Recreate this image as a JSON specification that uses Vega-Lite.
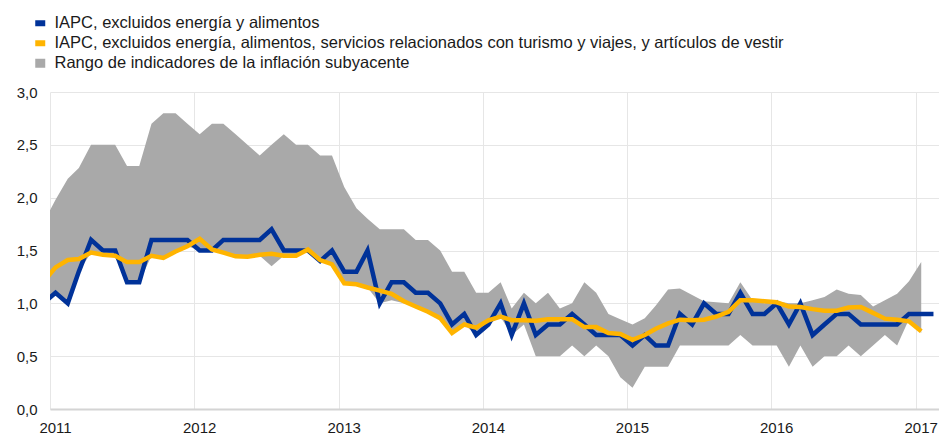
{
  "$schema": "https://vega.github.io/schema/vega-lite/v6.json",
  "width": 889,
  "height": 317,
  "autosize": {"type": "none"},
  "padding": {"left": 50, "top": 92, "right": 0, "bottom": 25},
  "background": "white",
  "config": {
    "view": {"stroke": null},
    "font": "Liberation Sans",
    "axis": {"labelFont": "Liberation Sans", "labelFontSize": 15, "labelColor": "#1a1a1a", "gridColor": "#e6e6e6", "gridWidth": 1, "ticks": false, "tickSize": 0}
  },
  "data": {"values": [
    {"d":"2010-12-15","b":1.0,"y":1.2,"lo":1.0,"hi":1.76},
    {"d":"2011-01-15","b":1.1,"y":1.34,"lo":1.1,"hi":1.98},
    {"d":"2011-02-15","b":1.0,"y":1.41,"lo":1.0,"hi":2.18},
    {"d":"2011-03-15","b":1.3,"y":1.42,"lo":1.3,"hi":2.28},
    {"d":"2011-04-15","b":1.6,"y":1.48,"lo":1.48,"hi":2.5},
    {"d":"2011-05-15","b":1.5,"y":1.46,"lo":1.46,"hi":2.5},
    {"d":"2011-06-15","b":1.5,"y":1.45,"lo":1.45,"hi":2.5},
    {"d":"2011-07-15","b":1.2,"y":1.39,"lo":1.2,"hi":2.3},
    {"d":"2011-08-15","b":1.2,"y":1.39,"lo":1.2,"hi":2.3},
    {"d":"2011-09-15","b":1.6,"y":1.45,"lo":1.45,"hi":2.7},
    {"d":"2011-10-15","b":1.6,"y":1.43,"lo":1.43,"hi":2.8},
    {"d":"2011-11-15","b":1.6,"y":1.49,"lo":1.49,"hi":2.8},
    {"d":"2011-12-15","b":1.6,"y":1.54,"lo":1.54,"hi":2.7},
    {"d":"2012-01-15","b":1.5,"y":1.61,"lo":1.5,"hi":2.6},
    {"d":"2012-02-15","b":1.5,"y":1.51,"lo":1.5,"hi":2.7},
    {"d":"2012-03-15","b":1.6,"y":1.48,"lo":1.48,"hi":2.7},
    {"d":"2012-04-15","b":1.6,"y":1.445,"lo":1.445,"hi":2.6},
    {"d":"2012-05-15","b":1.6,"y":1.44,"lo":1.44,"hi":2.5},
    {"d":"2012-06-15","b":1.6,"y":1.46,"lo":1.45,"hi":2.4},
    {"d":"2012-07-15","b":1.7,"y":1.47,"lo":1.35,"hi":2.5},
    {"d":"2012-08-15","b":1.5,"y":1.45,"lo":1.45,"hi":2.6},
    {"d":"2012-09-15","b":1.5,"y":1.45,"lo":1.45,"hi":2.5},
    {"d":"2012-10-15","b":1.5,"y":1.51,"lo":1.5,"hi":2.5},
    {"d":"2012-11-15","b":1.4,"y":1.41,"lo":1.4,"hi":2.4},
    {"d":"2012-12-15","b":1.5,"y":1.37,"lo":1.37,"hi":2.4},
    {"d":"2013-01-15","b":1.3,"y":1.19,"lo":1.19,"hi":2.1},
    {"d":"2013-02-15","b":1.3,"y":1.18,"lo":1.18,"hi":1.9},
    {"d":"2013-03-15","b":1.5,"y":1.15,"lo":1.15,"hi":1.8},
    {"d":"2013-04-15","b":1.0,"y":1.12,"lo":1.0,"hi":1.7},
    {"d":"2013-05-15","b":1.2,"y":1.09,"lo":1.03,"hi":1.7},
    {"d":"2013-06-15","b":1.2,"y":1.02,"lo":1.0,"hi":1.7},
    {"d":"2013-07-15","b":1.1,"y":0.97,"lo":0.97,"hi":1.6},
    {"d":"2013-08-15","b":1.1,"y":0.92,"lo":0.92,"hi":1.6},
    {"d":"2013-09-15","b":1.0,"y":0.86,"lo":0.86,"hi":1.5},
    {"d":"2013-10-15","b":0.8,"y":0.72,"lo":0.72,"hi":1.3},
    {"d":"2013-11-15","b":0.9,"y":0.8,"lo":0.8,"hi":1.3},
    {"d":"2013-12-15","b":0.7,"y":0.77,"lo":0.7,"hi":1.1},
    {"d":"2014-01-15","b":0.8,"y":0.84,"lo":0.8,"hi":1.1},
    {"d":"2014-02-15","b":1.0,"y":0.875,"lo":0.87,"hi":1.2},
    {"d":"2014-03-15","b":0.7,"y":0.84,"lo":0.7,"hi":0.95},
    {"d":"2014-04-15","b":1.0,"y":0.84,"lo":0.8,"hi":1.1},
    {"d":"2014-05-15","b":0.7,"y":0.835,"lo":0.5,"hi":1.0},
    {"d":"2014-06-15","b":0.8,"y":0.85,"lo":0.5,"hi":1.1},
    {"d":"2014-07-15","b":0.8,"y":0.85,"lo":0.5,"hi":0.95},
    {"d":"2014-08-15","b":0.9,"y":0.85,"lo":0.6,"hi":1.0},
    {"d":"2014-09-15","b":0.8,"y":0.775,"lo":0.5,"hi":1.2},
    {"d":"2014-10-15","b":0.7,"y":0.775,"lo":0.6,"hi":1.1},
    {"d":"2014-11-15","b":0.7,"y":0.72,"lo":0.5,"hi":0.9},
    {"d":"2014-12-15","b":0.7,"y":0.71,"lo":0.3,"hi":0.85},
    {"d":"2015-01-15","b":0.6,"y":0.655,"lo":0.2,"hi":0.8},
    {"d":"2015-02-15","b":0.7,"y":0.7,"lo":0.4,"hi":0.86},
    {"d":"2015-03-15","b":0.6,"y":0.76,"lo":0.4,"hi":0.98},
    {"d":"2015-04-15","b":0.6,"y":0.81,"lo":0.4,"hi":1.13},
    {"d":"2015-05-15","b":0.9,"y":0.845,"lo":0.6,"hi":1.14},
    {"d":"2015-06-15","b":0.8,"y":0.84,"lo":0.6,"hi":1.08},
    {"d":"2015-07-15","b":1.0,"y":0.845,"lo":0.6,"hi":1.02},
    {"d":"2015-08-15","b":0.9,"y":0.875,"lo":0.6,"hi":1.01},
    {"d":"2015-09-15","b":0.9,"y":0.92,"lo":0.6,"hi":1.0},
    {"d":"2015-10-15","b":1.1,"y":1.03,"lo":0.7,"hi":1.2},
    {"d":"2015-11-15","b":0.9,"y":1.03,"lo":0.6,"hi":1.03},
    {"d":"2015-12-15","b":0.9,"y":1.02,"lo":0.6,"hi":1.0},
    {"d":"2016-01-15","b":1.0,"y":1.01,"lo":0.6,"hi":1.02},
    {"d":"2016-02-15","b":0.8,"y":0.97,"lo":0.4,"hi":1.0},
    {"d":"2016-03-15","b":1.0,"y":0.965,"lo":0.6,"hi":1.0},
    {"d":"2016-04-15","b":0.7,"y":0.945,"lo":0.4,"hi":1.03},
    {"d":"2016-05-15","b":0.8,"y":0.93,"lo":0.5,"hi":1.06},
    {"d":"2016-06-15","b":0.9,"y":0.93,"lo":0.5,"hi":1.13},
    {"d":"2016-07-15","b":0.9,"y":0.96,"lo":0.6,"hi":1.09},
    {"d":"2016-08-15","b":0.8,"y":0.965,"lo":0.5,"hi":1.08},
    {"d":"2016-09-15","b":0.8,"y":0.91,"lo":0.6,"hi":0.97},
    {"d":"2016-10-15","b":0.8,"y":0.855,"lo":0.7,"hi":1.03},
    {"d":"2016-11-15","b":0.8,"y":0.845,"lo":0.6,"hi":1.09},
    {"d":"2016-12-15","b":0.9,"y":0.83,"lo":0.85,"hi":1.21},
    {"d":"2017-01-15","b":0.9,"y":0.735,"lo":0.72,"hi":1.39},
    {"d":"2017-02-15","b":0.9,"y":null,"lo":null,"hi":null}
  ]},
  "encoding": {
    "x": {
      "field": "d", "type": "temporal", "title": null,
      "scale": {"type": "utc", "domain": [{"year": 2011, "month": 1, "date": 1, "utc": true}, {"year": 2017, "month": 3, "date": 1, "utc": true}], "nice": false},
      "axis": {
        "values": [
          {"year": 2011, "month": 1, "date": 1, "utc": true},
          {"year": 2012, "month": 1, "date": 1, "utc": true},
          {"year": 2013, "month": 1, "date": 1, "utc": true},
          {"year": 2014, "month": 1, "date": 1, "utc": true},
          {"year": 2015, "month": 1, "date": 1, "utc": true},
          {"year": 2016, "month": 1, "date": 1, "utc": true},
          {"year": 2017, "month": 1, "date": 1, "utc": true}
        ],
        "labelExpr": "utcFormat(datum.value, '%Y')",
        "labelOffset": 5,
        "labelPadding": 11,
        "labelFlush": false,
        "grid": true,
        "domainColor": "#d4d4d4",
        "domainWidth": 2
      }
    }
  },
  "layer": [
    {
      "mark": {"type": "area", "clip": true, "color": "#a9a9a9", "opacity": 1},
      "encoding": {
        "y": {"field": "lo", "type": "quantitative", "title": null, "scale": {"domain": [0, 3], "nice": false},
          "axis": {"values": [0, 0.5, 1, 1.5, 2, 2.5, 3], "labelExpr": "replace(format(datum.value, '.1f'), '.', ',')", "labelPadding": 13, "domain": false, "grid": true}},
        "y2": {"field": "hi"},
        "color": {"datum": "Rango de indicadores de la inflación subyacente"}
      }
    },
    {
      "mark": {"type": "line", "clip": true, "strokeWidth": 4.5},
      "encoding": {
        "y": {"field": "b", "type": "quantitative"},
        "color": {"datum": "IAPC, excluidos energía y alimentos"}
      }
    },
    {
      "mark": {"type": "line", "clip": true, "strokeWidth": 4.5},
      "encoding": {
        "y": {"field": "y", "type": "quantitative"},
        "color": {
          "datum": "IAPC, excluidos energía, alimentos, servicios relacionados con turismo y viajes, y artículos de vestir",
          "scale": {
            "domain": ["IAPC, excluidos energía y alimentos", "IAPC, excluidos energía, alimentos, servicios relacionados con turismo y viajes, y artículos de vestir", "Rango de indicadores de la inflación subyacente"],
            "range": ["#003299", "#ffb400", "#a9a9a9"]
          },
          "legend": {
            "title": null,
            "orient": "none",
            "legendX": -18,
            "legendY": -77,
            "padding": 0,
            "rowPadding": 3,
            "symbolSize": 100,
            "labelOffset": 6,
            "labelFont": "Liberation Sans",
            "labelFontSize": 16.5,
            "labelColor": "#1a1a1a",
            "labelLimit": 900,
            "encode": {
              "symbols": {
                "update": {
                  "fill": {"scale": "color", "field": "value"},
                  "stroke": {"value": "transparent"},
                  "strokeWidth": {"value": 0},
                  "opacity": {"value": 1},
                  "shape": {"signal": "indexof(datum.value, 'Rango') === 0 ? 'M-1,-0.9H1V0.9H-1Z' : 'M-1,-0.6H1V0.6H-1Z'"}
                }
              }
            }
          }
        }
      }
    }
  ]
}
